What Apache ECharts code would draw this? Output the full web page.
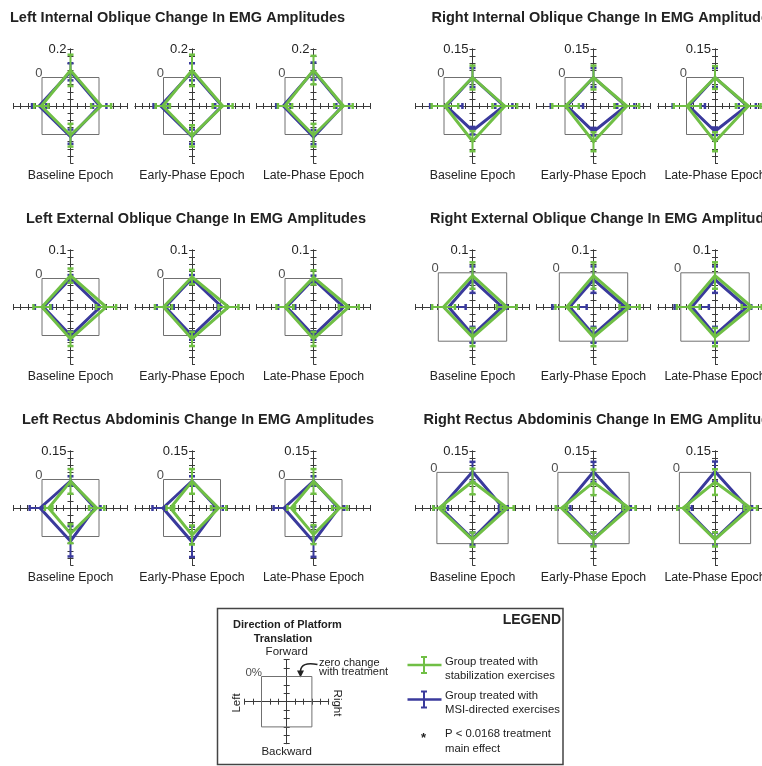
<!DOCTYPE html>
<html>
<head>
<meta charset="utf-8">
<script src="https://cdn.jsdelivr.net/npm/echarts/dist/echarts.min.js"></script>
<style>
  html, body { margin: 0; padding: 0; background: #fff; }
  #chart { width: 762px; height: 766px; }
</style>
</head>
<body>
<div id="chart"></div>
<script>
// ---- chart data -------------------------------------------------------
const epochs = ['Baseline Epoch', 'Early-Phase Epoch', 'Late-Phase Epoch'];
const directions = ['Forward', 'Right', 'Backward', 'Left'];

const muscleTitles = [
  'Left Internal Oblique Change In EMG Amplitudes',
  'Right Internal Oblique Change In EMG Amplitudes',
  'Left External Oblique Change In EMG Amplitudes',
  'Right External Oblique Change In EMG Amplitudes',
  'Left Rectus Abdominis Change In EMG Amplitudes',
  'Right Rectus Abdominis Change In EMG Amplitudes'
];

// radial scale of each muscle: value at the centre and at the axis ends
const scaleCenter = [-0.2, -0.15, -0.1, -0.15, -0.15, -0.25];
const scaleMax = [0.2, 0.15, 0.1, 0.1, 0.15, 0.15];
const scaleMaxLabel = ['0.2', '0.15', '0.1', '0.1', '0.15', '0.15'];
const zeroLabel = '0';

// change in EMG amplitude, [Forward, Right, Backward, Left], one row per epoch
const stabMeans = [
  [[0.05, 0.015, 0.005, 0.005], [0.05, 0.015, 0.01, 0.005], [0.052, 0.01, 0.005, 0.0]],
  [[0.0, 0.02, 0.035, -0.005], [0.0, 0.025, 0.038, -0.003], [0.0, 0.025, 0.038, -0.003]],
  [[0.01, 0.025, 0.012, 0.0], [0.005, 0.028, 0.012, 0.0], [0.004, 0.024, 0.012, 0.0]],
  [[-0.012, 0.0, -0.018, -0.023], [-0.012, 0.008, -0.018, -0.033], [-0.012, 0.011, -0.018, -0.033]],
  [[-0.01, -0.012, -0.015, -0.035], [-0.01, -0.01, -0.008, -0.036], [-0.01, -0.012, -0.01, -0.033]],
  [[-0.064, -0.006, -0.028, -0.015], [-0.07, 0.0, -0.03, -0.025], [-0.068, 0.0, -0.03, -0.025]]
];
const stabErrors = [
  [[0.11, 0.07, 0.08, 0.05], [0.11, 0.07, 0.075, 0.05], [0.1, 0.065, 0.08, 0.05]],
  [[0.063, 0.065, 0.053, 0.07], [0.063, 0.065, 0.05, 0.07], [0.06, 0.065, 0.05, 0.07]],
  [[0.025, 0.035, 0.025, 0.03], [0.025, 0.035, 0.025, 0.03], [0.025, 0.035, 0.025, 0.03]],
  [[0.058, 0.044, 0.04, 0.05], [0.058, 0.044, 0.04, 0.05], [0.058, 0.044, 0.04, 0.05]],
  [[0.065, 0.04, 0.05, 0.02], [0.065, 0.04, 0.05, 0.02], [0.065, 0.04, 0.05, 0.02]],
  [[0.09, 0.045, 0.05, 0.04], [0.09, 0.045, 0.05, 0.04], [0.09, 0.045, 0.05, 0.04]]
];
const msiMeans = [
  [[0.04, 0.005, 0.015, 0.02], [0.04, 0.01, 0.015, 0.02], [0.045, 0.005, 0.018, 0.012]],
  [[0.0, 0.015, -0.02, -0.012], [0.0, 0.02, -0.015, -0.01], [0.0, 0.02, -0.017, -0.012]],
  [[0.0, 0.004, 0.0, -0.005], [0.0, 0.005, 0.0, -0.006], [-0.002, 0.005, 0.0, -0.006]],
  [[-0.03, -0.02, -0.028, -0.045], [-0.03, -0.011, -0.028, -0.045], [-0.03, -0.011, -0.028, -0.048]],
  [[-0.008, -0.022, 0.025, 0.01], [-0.008, -0.018, 0.028, 0.003], [-0.008, -0.018, 0.027, 0.005]],
  [[0.004, -0.035, -0.034, -0.028], [0.004, -0.018, -0.032, -0.038], [0.006, -0.02, -0.032, -0.038]]
];
const msiErrors = [
  [[0.06, 0.047, 0.05, 0.05], [0.06, 0.047, 0.05, 0.05], [0.06, 0.045, 0.05, 0.05]],
  [[0.05, 0.045, 0.02, 0.085], [0.05, 0.045, 0.02, 0.085], [0.05, 0.045, 0.02, 0.085]],
  [[0.012, 0.015, 0.015, 0.03], [0.012, 0.015, 0.015, 0.03], [0.012, 0.015, 0.015, 0.03]],
  [[0.058, 0.02, 0.035, 0.075], [0.058, 0.02, 0.035, 0.075], [0.058, 0.02, 0.035, 0.075]],
  [[0.025, 0.03, 0.08, 0.055], [0.025, 0.03, 0.08, 0.055], [0.025, 0.03, 0.08, 0.055]],
  [[0.07, 0.03, 0.045, 0.05], [0.07, 0.03, 0.045, 0.05], [0.07, 0.03, 0.045, 0.05]]
];

// legend diagram scale (ticks per half axis, zero-change box)
const diagramSpan = 5;
const diagramZero = 3;
const diagramZeroLabel = '0%';

// ---- layout & style -----------------------------------------------------
const GREEN = '#70bf45';
const BLUE = '#3a3a9c';
const AXIS = '#3a3a3a';
const BOX = '#707070';
const TEXT = '#222';
const FONT = '"Liberation Sans", Arial, Helvetica, sans-serif';

const colX = [[70.5, 192, 313.5], [472.5, 593.5, 715]];
const rowY = [106, 307, 508];
const titleX = [10, 431.5, 26, 430, 22, 423.5];
const HALF = 57;

const option = {
  animation: false,
  backgroundColor: '#fff',
  grid: [], xAxis: [], yAxis: [], series: [],
  graphic: { elements: [] }
};

function text(str, x, y, font, align, vAlign, extra) {
  option.graphic.elements.push(Object.assign({
    type: 'text', x: x, y: y, silent: true,
    style: {
      text: str, font: font, fill: TEXT,
      align: align, verticalAlign: vAlign,
      textAlign: align, textVerticalAlign: vAlign
    }
  }, extra || {}));
}

// crossing axes through the grid centre; each line is drawn twice so the
// ticks stick out on both sides of it
function addAxes(cx, cy, half, span, interval, topLabel) {
  const gi = option.grid.length;
  option.grid.push({
    left: cx - half, top: cy - half, width: 2 * half, height: 2 * half,
    containLabel: false, outerBoundsMode: 'none'
  });
  const xi = option.xAxis.length, yi = option.yAxis.length;
  const lineStyle = { color: AXIS, width: 1 };
  const common = {
    type: 'value', gridIndex: gi, min: -span, max: span, interval: interval,
    splitLine: { show: false }, offset: -half, z: 1,
    axisTick: { show: true, inside: false, length: 3, lineStyle: lineStyle }
  };
  ['bottom', 'top'].forEach(function (pos) {
    option.xAxis.push(Object.assign({}, common, {
      position: pos,
      axisLine: { show: true, onZero: false, lineStyle: lineStyle },
      axisLabel: { show: false }
    }));
  });
  ['left', 'right'].forEach(function (pos) {
    option.yAxis.push(Object.assign({}, common, {
      position: pos,
      axisLine: { show: true, onZero: false, lineStyle: lineStyle },
      axisLabel: (pos === 'left' && topLabel) ? {
        show: true, showMinLabel: false, showMaxLabel: true, margin: 4,
        fontFamily: FONT, fontSize: 13, color: TEXT,
        formatter: function (v) { return Math.abs(v - span) < 1e-9 ? topLabel : ''; }
      } : { show: false }
    }));
  });
  return { xi: xi, yi: yi };
}

// square marking zero change, with its label at the upper-left corner
function addZeroBox(ax, z, label, fontSize) {
  option.series.push({
    type: 'line', xAxisIndex: ax.xi, yAxisIndex: ax.yi, silent: true,
    data: [[-z, z], [z, z], [z, -z], [-z, -z], [-z, z]],
    showSymbol: false, symbol: 'none', clip: false, z: 1,
    lineStyle: { color: BOX, width: 1 }
  });
  option.series.push({
    type: 'scatter', xAxisIndex: ax.xi, yAxisIndex: ax.yi, silent: true,
    data: [[-z, z]], symbolSize: 1, itemStyle: { color: 'rgba(0,0,0,0)' }, z: 1,
    label: {
      show: true, formatter: label, position: 'left', distance: 0, offset: [1, -4],
      fontFamily: FONT, fontSize: fontSize, color: TEXT
    }
  });
}

function errorBarRenderer(color) {
  return function (params, api) {
    const x = api.value(0), y = api.value(1), dx = api.value(2), dy = api.value(3);
    const a = api.coord([x - dx, y - dy]);
    const b = api.coord([x + dx, y + dy]);
    const cap = 3;
    const kids = [{ type: 'line', shape: { x1: a[0], y1: a[1], x2: b[0], y2: b[1] }, style: { stroke: color, lineWidth: 2 } }];
    [a, b].forEach(function (p) {
      const shape = dx === 0
        ? { x1: p[0] - cap, y1: p[1], x2: p[0] + cap, y2: p[1] }
        : { x1: p[0], y1: p[1] - cap, x2: p[0], y2: p[1] + cap };
      kids.push({ type: 'line', shape: shape, style: { stroke: color, lineWidth: 2.5 } });
    });
    return { type: 'group', children: kids };
  };
}

// one group: diamond through the four direction means plus error bars
function addGroup(ax, means, errs, center, color, zBase, name) {
  const r = means.map(function (v) { return v - center; });
  option.series.push({
    type: 'custom', name: name, xAxisIndex: ax.xi, yAxisIndex: ax.yi, silent: true,
    renderItem: errorBarRenderer(color), encode: { x: 0, y: 1 }, clip: false, z: zBase,
    data: [[0, r[0], 0, errs[0]], [r[1], 0, errs[1], 0], [0, -r[2], 0, errs[2]], [-r[3], 0, errs[3], 0]]
  });
  option.series.push({
    type: 'line', name: name, xAxisIndex: ax.xi, yAxisIndex: ax.yi, silent: true,
    data: [[0, r[0]], [r[1], 0], [0, -r[2]], [-r[3], 0], [0, r[0]], [r[1], 0]],
    showSymbol: false, symbol: 'none', clip: false, z: zBase + 1,
    lineStyle: { color: color, width: 3, join: 'miter' }
  });
}

// ---- the eighteen panels -------------------------------------------------
muscleTitles.forEach(function (title, m) {
  const row = Math.floor(m / 2), side = m % 2;
  const cy = rowY[row];
  const c = scaleCenter[m];
  const span = scaleMax[m] - c;
  text(title, titleX[m], cy - 88, 'bold 14.5px ' + FONT, 'left', 'middle');
  epochs.forEach(function (ep, e) {
    const cx = colX[side][e];
    const ax = addAxes(cx, cy, HALF, span, span / 8, scaleMaxLabel[m]);
    addZeroBox(ax, -c, zeroLabel, 13);
    addGroup(ax, msiMeans[m][e], msiErrors[m][e], c, BLUE, 3, 'MSI-directed exercises');
    addGroup(ax, stabMeans[m][e], stabErrors[m][e], c, GREEN, 5, 'Stabilization exercises');
    text(ep, cx, cy + 69.5, '12.3px ' + FONT, 'center', 'middle');
  });
});

// ---- legend ------------------------------------------------------------
option.graphic.elements.push({
  type: 'rect', silent: true, z: -1,
  shape: { x: 217.5, y: 608.5, width: 345.5, height: 156 },
  style: { fill: 'none', stroke: '#444', lineWidth: 1.5 }
});
text('LEGEND', 561, 620, 'bold 14px ' + FONT, 'right', 'middle');
text('Direction of Platform', 287.5, 624.5, 'bold 11px ' + FONT, 'center', 'middle');
text('Translation', 283, 638.5, 'bold 11px ' + FONT, 'center', 'middle');
text('Forward', 286.7, 651.5, '11.5px ' + FONT, 'center', 'middle');
text('Backward', 286.7, 752, '11.5px ' + FONT, 'center', 'middle');
text('Left', 237, 703, '11.5px ' + FONT, 'center', 'middle', { rotation: Math.PI / 2 });
text('Right', 337, 703, '11.5px ' + FONT, 'center', 'middle', { rotation: -Math.PI / 2 });
text('zero change', 319, 662.5, '11px ' + FONT, 'left', 'middle');
text('with treatment', 319, 672, '11px ' + FONT, 'left', 'middle');

const diagram = addAxes(286.7, 701.7, 42, diagramSpan, 1, null);
addZeroBox(diagram, diagramZero, diagramZeroLabel, 11.5);

// arrow pointing at the zero-change box
option.graphic.elements.push({
  type: 'bezierCurve', silent: true,
  shape: { x1: 317.5, y1: 664.5, cpx1: 301, cpy1: 661.5, x2: 300.5, y2: 671 },
  style: { stroke: '#222', lineWidth: 1.6, fill: 'none' }
});
option.graphic.elements.push({
  type: 'polygon', silent: true,
  shape: { points: [[300.5, 677.5], [297, 670.5], [304, 670.5]] },
  style: { fill: '#222' }
});

// error-bar keys
[[GREEN, 665, 'Group treated with', 'stabilization exercises'],
 [BLUE, 699.5, 'Group treated with', 'MSI-directed exercises']].forEach(function (k) {
  const color = k[0], y = k[1];
  const els = option.graphic.elements;
  els.push({ type: 'line', silent: true, shape: { x1: 407.5, y1: y, x2: 441.5, y2: y }, style: { stroke: color, lineWidth: 2.5 } });
  els.push({ type: 'line', silent: true, shape: { x1: 424, y1: y - 8, x2: 424, y2: y + 8 }, style: { stroke: color, lineWidth: 2 } });
  els.push({ type: 'line', silent: true, shape: { x1: 421, y1: y - 8, x2: 427, y2: y - 8 }, style: { stroke: color, lineWidth: 2 } });
  els.push({ type: 'line', silent: true, shape: { x1: 421, y1: y + 8, x2: 427, y2: y + 8 }, style: { stroke: color, lineWidth: 2 } });
  text(k[2], 445, y - 3.5, '11.3px ' + FONT, 'left', 'middle');
  text(k[3], 445, y + 10.5, '11.3px ' + FONT, 'left', 'middle');
});
text('*', 423.5, 738, 'bold 13px ' + FONT, 'center', 'middle');
text('P < 0.0168 treatment', 445, 733.5, '11.3px ' + FONT, 'left', 'middle');
text('main effect', 445, 748.5, '11.3px ' + FONT, 'left', 'middle');

const chart = echarts.init(document.getElementById('chart'), null, { renderer: 'canvas' });
chart.setOption(option);
</script>
</body>
</html>
